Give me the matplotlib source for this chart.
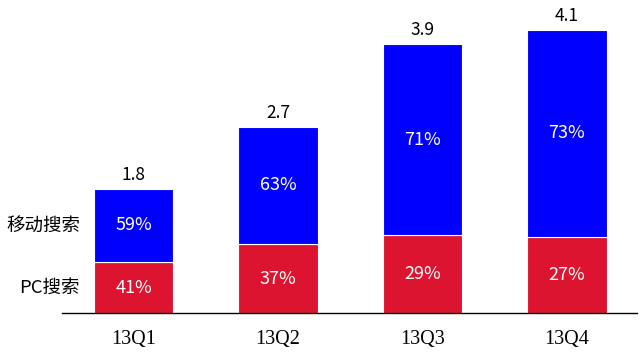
import matplotlib
matplotlib.use("Agg")
import matplotlib.pyplot as plt

categories = ["13Q1", "13Q2", "13Q3", "13Q4"]
totals = [1.8, 2.7, 3.9, 4.1]
pc_share = [41, 37, 29, 27]
mobile_share = [59, 63, 71, 73]
series_names = ["PC搜索", "移动搜索"]

plt.rcParams['font.family'] = ['Noto Sans CJK SC', 'DejaVu Sans']

fig = plt.figure(figsize=(6.44, 3.63), dpi=100)
ax = fig.add_axes([0.0963, 0.1377, 0.8927, 0.855])

red = '#DC1430'
blue = '#0000FF'
x = list(range(len(categories)))
pc_vals = [t * p / 100 for t, p in zip(totals, pc_share)]
mob_vals = [t * m / 100 for t, m in zip(totals, mobile_share)]
w = 0.55
ax.bar(x, pc_vals, width=w, color=red, edgecolor='white', linewidth=0.8)
ax.bar(x, mob_vals, bottom=pc_vals, width=w, color=blue, edgecolor='white', linewidth=0.8)

for i in x:
    ax.text(i, pc_vals[i] / 2, f"{pc_share[i]}%", color='white', ha='center', va='center', fontsize=13)
    ax.text(i, pc_vals[i] + mob_vals[i] / 2, f"{mobile_share[i]}%", color='white', ha='center', va='center', fontsize=13)
    ax.text(i, totals[i] + 0.07, f"{totals[i]}", color='black', ha='center', va='bottom', fontsize=12.5)

ax.text(-0.37, pc_vals[0] / 2, series_names[0], ha='right', va='center', fontsize=13.3)
ax.text(-0.37, pc_vals[0] + mob_vals[0] / 2, series_names[1], ha='right', va='center', fontsize=13.3)

ax.set_xlim(-0.495, 3.484)
ax.set_ylim(0, 4.5)
ax.set_xticks(x)
ax.set_xticklabels(categories, fontsize=14.5, family=['Liberation Serif'])
ax.tick_params(axis='x', length=0, pad=12)
ax.set_yticks([])
for s in ['top', 'right', 'left']:
    ax.spines[s].set_visible(False)
ax.spines['bottom'].set_linewidth(1.0)

fig.savefig("out.png", dpi=100)
